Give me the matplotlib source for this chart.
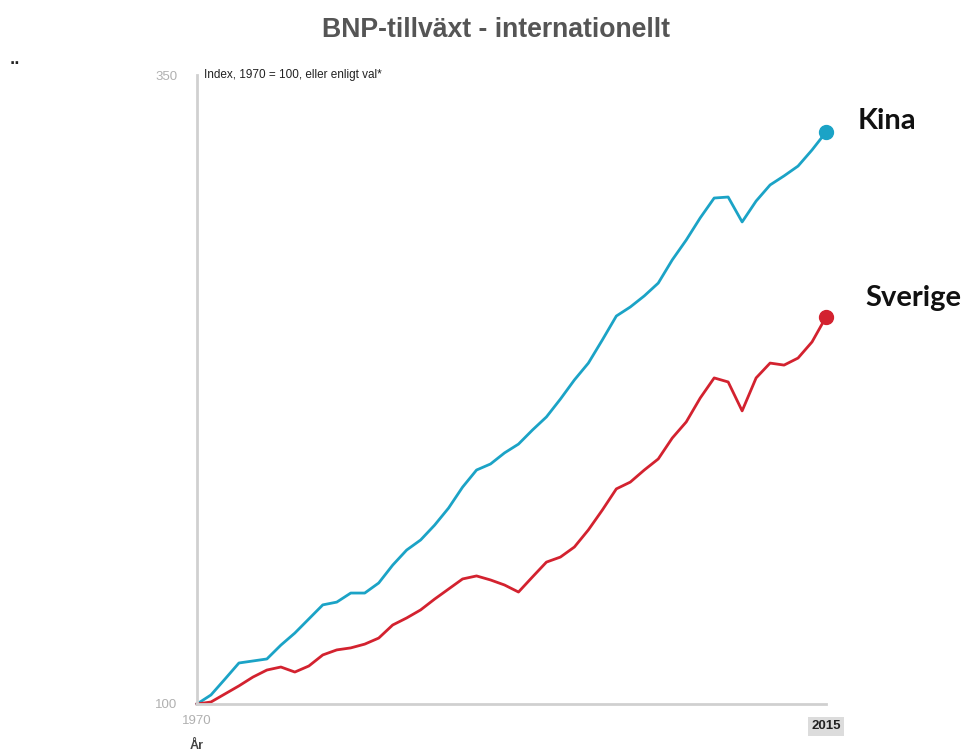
import matplotlib
matplotlib.use("Agg")
import matplotlib.pyplot as plt

# BNP-index, 1970 = 100
years = list(range(1970, 2016))
kina = [100.0, 103.6, 109.9, 116.3, 117.1, 117.9, 123.4, 128.2, 133.8, 139.4,
        140.5, 144.1, 144.1, 148.1, 155.2, 161.2, 165.2, 171.1, 177.9, 186.2,
        193.0, 195.4, 199.8, 203.3, 208.9, 214.1, 221.2, 228.8, 235.5, 244.7,
        254.2, 257.8, 262.2, 267.3, 276.5, 284.4, 293.2, 301.1, 301.5, 291.6,
        299.9, 306.3, 309.9, 313.8, 320.2, 327.3]
sverige = [100.0, 100.8, 104.0, 107.2, 110.7, 113.5, 114.7, 112.7, 115.1, 119.5,
           121.5, 122.3, 123.8, 126.2, 131.4, 134.2, 137.4, 141.7, 145.7, 149.7,
           150.9, 149.3, 147.3, 144.5, 150.5, 156.4, 158.4, 162.4, 169.2, 177.1,
           185.5, 188.2, 193.0, 197.4, 205.7, 212.1, 221.6, 229.6, 228.0, 216.5,
           229.6, 235.5, 234.7, 237.5, 243.9, 253.8]
y_ticks = [100, 350]

BLUE = "#1ba3c6"
RED = "#d3222f"
GRID = "#d0d0d0"

fig = plt.figure(figsize=(9.65, 7.55), dpi=100)
ax = fig.add_axes([197 / 965, 51 / 755, 629 / 965, 629 / 755])

ax.plot(years, kina, color=BLUE, lw=2.0, solid_joinstyle="round", clip_on=False)
ax.plot(years, sverige, color=RED, lw=2.0, solid_joinstyle="round", clip_on=False)
ax.plot(years[-1], kina[-1], "o", color=BLUE, ms=10, clip_on=False)
ax.plot(years[-1], sverige[-1], "o", color=RED, ms=10, clip_on=False)

ax.set_xlim(years[0], years[-1])
ax.set_ylim(y_ticks[0], y_ticks[-1])
for s in ("top", "right"):
    ax.spines[s].set_visible(False)
for s in ("left", "bottom"):
    ax.spines[s].set_color(GRID)
    ax.spines[s].set_linewidth(2)

ax.set_yticks(y_ticks)
ax.set_yticklabels([str(v) for v in y_ticks], color="#b0b0b0",
                   fontsize=9.5, family="Liberation Sans")
ax.tick_params(axis="y", length=0, pad=14)
ax.set_xticks([])

# x-axis labels: first year plain, last year highlighted
ax.annotate(str(years[0]), xy=(years[0], y_ticks[0]), xytext=(0, -12),
            textcoords="offset points", ha="center", va="center",
            fontsize=9.5, color="#b0b0b0", family="Liberation Sans")
ax.annotate("År", xy=(years[0], y_ticks[0]), xytext=(0, -30),
            textcoords="offset points", ha="center", va="center",
            fontsize=9, fontweight="bold", color="#444444",
            family="Liberation Sans")
ax.annotate(str(years[-1]), xy=(years[-1], y_ticks[0]), xytext=(0, -16),
            textcoords="offset points", ha="center", va="center",
            fontsize=9.5, fontweight="bold", color="#222222",
            family="Liberation Sans",
            bbox=dict(boxstyle="square,pad=0.25", fc="#dcdcdc", ec="none"))

ax.annotate("Index, 1970 = 100, eller enligt val*", xy=(years[0], y_ticks[-1]),
            xytext=(5, 0), textcoords="offset points", ha="left", va="center",
            fontsize=8.5, color="#222222", family="Liberation Sans")

# series labels next to end points
ax.annotate("Kina", xy=(years[-1], kina[-1]), xytext=(23, 8),
            textcoords="offset points", ha="left", va="center",
            fontsize=21, fontweight="bold", color="#111111", family="Lato",
            annotation_clip=False)
ax.annotate("Sverige", xy=(years[-1], sverige[-1]), xytext=(28, 14),
            textcoords="offset points", ha="left", va="center",
            fontsize=21, fontweight="bold", color="#111111", family="Lato",
            annotation_clip=False)

fig.text(496 / 965, 1 - 30 / 755, "BNP-tillväxt - internationellt",
         ha="center", va="center", fontsize=19.2, fontweight="bold",
         color="#555555", family="Liberation Sans")
fig.text(10 / 965, 1 - 60 / 755, "..", ha="left", va="center",
         fontsize=10, fontweight="bold", color="#222222")

fig.savefig("out.png", dpi=100, facecolor="white")
